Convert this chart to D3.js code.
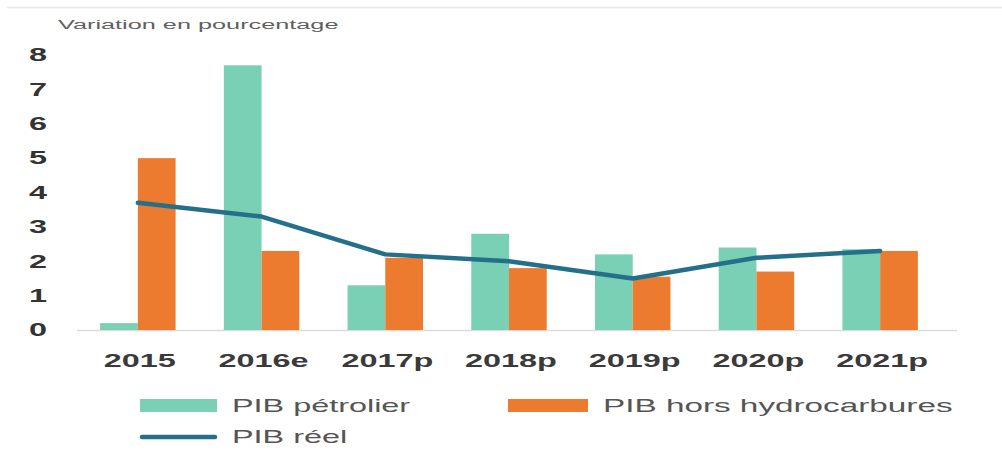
<!DOCTYPE html>
<html>
<head>
<meta charset="utf-8">
<script src="https://cdn.jsdelivr.net/npm/d3@7"></script>
<style>
  html, body { margin: 0; padding: 0; background: #fff; }
  svg { display: block; font-family: "Liberation Sans", Arial, sans-serif; }
</style>
</head>
<body>
<svg id="chart" width="1002" height="462"></svg>
<script>
const categories = ["2015", "2016e", "2017p", "2018p", "2019p", "2020p", "2021p"];
const pibPetrolier = [0.2, 7.7, 1.3, 2.8, 2.2, 2.4, 2.35];
const pibHorsHydrocarbures = [5.0, 2.3, 2.1, 1.8, 1.55, 1.7, 2.3];
const pibReel = [3.7, 3.3, 2.2, 2.0, 1.5, 2.1, 2.3];
const yTicks = [0, 1, 2, 3, 4, 5, 6, 7, 8];
const seriesNames = ["PIB pétrolier", "PIB hors hydrocarbures", "PIB réel"];
const yTitle = "Variation en pourcentage";

const colors = { petrolier: "#7ad0b4", hors: "#ec7b30", reel: "#246f89" };
const SX = 1.8; // horizontal stretch of the text in the reference

const svg = d3.select("#chart");

const x = d3.scaleBand().domain(categories).range([76, 942]).paddingInner(0.39).paddingOuter(0.195);
const xSub = d3.scaleBand().domain(["petrolier", "hors"]).range([0, x.bandwidth()]);
const y = d3.scaleLinear().domain([0, 8]).range([330, 55]);

function stretchedText(g, tx, ty, txt, anchor, sx) {
  return g.append("text")
    .attr("transform", `translate(${tx},${ty}) scale(${sx || SX},1)`)
    .attr("text-anchor", anchor || "start")
    .attr("dy", "0.35em")
    .text(txt);
}

// top separator line
svg.append("line").attr("x1", 7).attr("x2", 1002).attr("y1", 7.5).attr("y2", 7.5)
  .attr("stroke", "#e8e8e8").attr("stroke-width", 1.5);

// title
stretchedText(svg, 58, 24, yTitle, "start", 1.9).attr("font-size", 13.3).attr("fill", "#606060");

// y tick labels
const yg = svg.append("g");
yTicks.forEach(t => {
  stretchedText(yg, 38, y(t), String(t), "middle")
    .attr("font-size", 18).attr("font-weight", "bold").attr("fill", "#333");
});

// baseline
svg.append("line").attr("x1", 77).attr("x2", 957).attr("y1", y(0) + 0.5).attr("y2", y(0) + 0.5)
  .attr("stroke", "#dcdcdc").attr("stroke-width", 1.5);

// bars
const data = categories.map((c, i) => ({ c, petrolier: pibPetrolier[i], hors: pibHorsHydrocarbures[i], reel: pibReel[i] }));
const groups = svg.append("g").selectAll("g").data(data).join("g")
  .attr("transform", d => `translate(${x(d.c)},0)`);
groups.selectAll("rect").data(d => ["petrolier", "hors"].map(k => ({ k, v: d[k] }))).join("rect")
  .attr("x", d => xSub(d.k))
  .attr("width", xSub.bandwidth())
  .attr("y", d => y(d.v))
  .attr("height", d => y(0) - y(d.v))
  .attr("fill", d => colors[d.k]);

// line
const line = d3.line().x(d => x(d.c) + x.bandwidth() / 2).y(d => y(d.reel));
svg.append("path").datum(data).attr("d", line)
  .attr("fill", "none").attr("stroke", colors.reel).attr("stroke-width", 4.5)
  .attr("stroke-linejoin", "round").attr("stroke-linecap", "round");

// x labels
const xg = svg.append("g");
categories.forEach(c => {
  stretchedText(xg, x(c) + x.bandwidth() / 2 + 2, 361, c, "middle")
    .attr("font-size", 18).attr("font-weight", "bold").attr("fill", "#3a3a3a");
});

// legend
const lg = svg.append("g");
lg.append("rect").attr("x", 140).attr("y", 399).attr("width", 77).attr("height", 13).attr("fill", colors.petrolier);
stretchedText(lg, 232, 406, seriesNames[0]).attr("font-size", 18).attr("fill", "#555");
lg.append("rect").attr("x", 508).attr("y", 399).attr("width", 80).attr("height", 13).attr("fill", colors.hors);
stretchedText(lg, 603, 406, seriesNames[1], "start", 1.85).attr("font-size", 18).attr("fill", "#555");
lg.append("line").attr("x1", 142).attr("x2", 215).attr("y1", 437).attr("y2", 437)
  .attr("stroke", colors.reel).attr("stroke-width", 4.5).attr("stroke-linecap", "round");
stretchedText(lg, 232, 437, seriesNames[2]).attr("font-size", 18).attr("fill", "#555");
</script>
</body>
</html>
